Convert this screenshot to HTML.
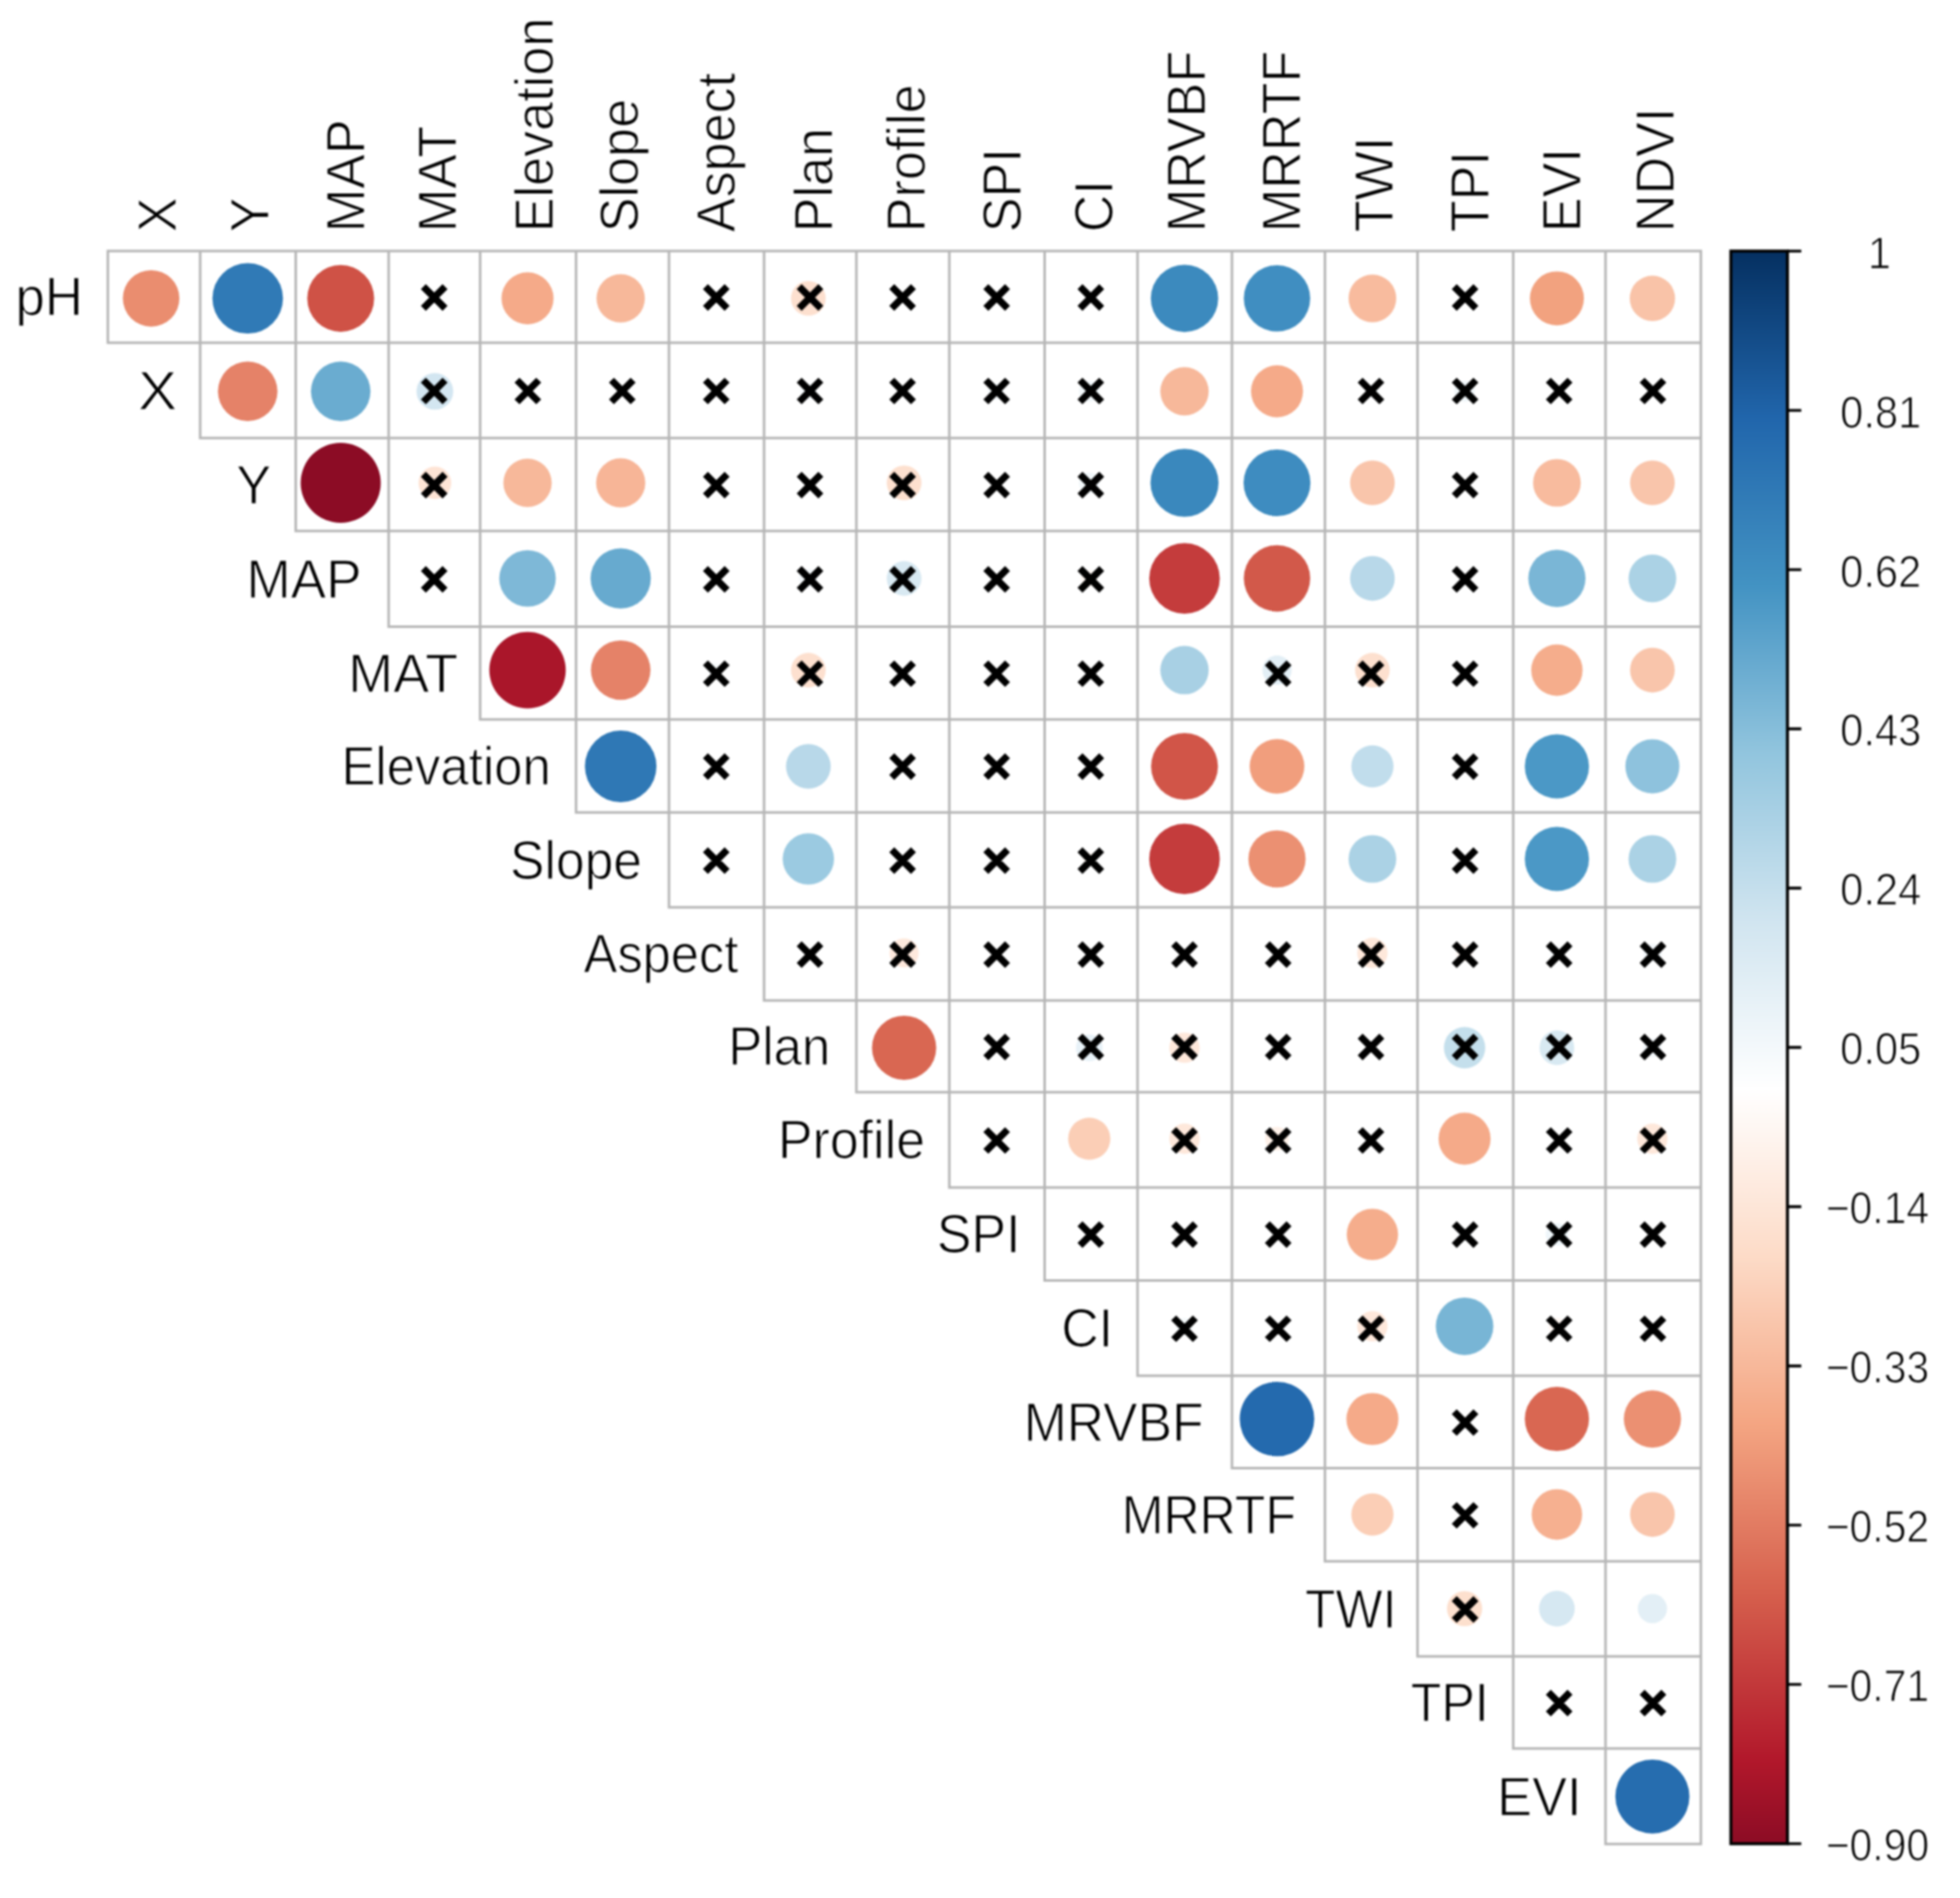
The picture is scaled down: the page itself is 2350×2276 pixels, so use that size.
<!DOCTYPE html>
<html><head><meta charset="utf-8"><title>Correlation plot</title>
<style>html,body{margin:0;padding:0;background:#fff}svg{display:block;filter:blur(1.1px)}text{font-family:"Liberation Sans",Arial,sans-serif;fill:#000;stroke:#fff;stroke-width:1.1px}</style></head><body>
<svg width="2350" height="2276" viewBox="0 0 2350 2276">
<rect width="2350" height="2276" fill="#fff"/>
<defs><linearGradient id="cb" x1="0" y1="0" x2="0" y2="1"><stop offset="0.0000" stop-color="#053061"/><stop offset="0.1053" stop-color="#2166ac"/><stop offset="0.2105" stop-color="#4393c3"/><stop offset="0.3158" stop-color="#92c5de"/><stop offset="0.4211" stop-color="#d1e5f0"/><stop offset="0.5263" stop-color="#ffffff"/><stop offset="0.6316" stop-color="#fddbc7"/><stop offset="0.7368" stop-color="#f4a582"/><stop offset="0.8421" stop-color="#d6604d"/><stop offset="0.9474" stop-color="#b2182b"/><stop offset="1.0000" stop-color="#8c0c25"/></linearGradient></defs>
<g><circle cx="181.2" cy="357.8" r="33.9" fill="#ea8d6f"/><circle cx="297.0" cy="357.8" r="42.3" fill="#307ab6"/><circle cx="408.5" cy="357.8" r="40.1" fill="#cf5246"/><circle cx="632.5" cy="357.8" r="31.2" fill="#f5aa89"/><circle cx="744.2" cy="357.8" r="29.0" fill="#f7b89a"/><circle cx="969.2" cy="357.8" r="20.8" fill="#fde0cf"/><circle cx="1420.2" cy="357.8" r="40.4" fill="#3c8abe"/><circle cx="1531.1" cy="357.8" r="39.8" fill="#408ec1"/><circle cx="1645.5" cy="357.8" r="28.6" fill="#f8bb9e"/><circle cx="1866.7" cy="357.8" r="32.4" fill="#f2a27f"/><circle cx="1981.2" cy="357.8" r="27.2" fill="#f9c3a8"/><circle cx="297.0" cy="469.3" r="35.7" fill="#e58268"/><circle cx="408.5" cy="469.3" r="35.7" fill="#6aacd0"/><circle cx="521.4" cy="469.3" r="22.0" fill="#d3e6f1"/><circle cx="969.2" cy="469.3" r="10.1" fill="#f6fafc"/><circle cx="1194.3" cy="469.3" r="10.1" fill="#f6fafc"/><circle cx="1306.0" cy="469.3" r="12.4" fill="#f1f7fa"/><circle cx="1420.2" cy="469.3" r="29.0" fill="#f7b89a"/><circle cx="1531.1" cy="469.3" r="31.2" fill="#f5aa89"/><circle cx="1645.5" cy="469.3" r="8.8" fill="#f8fbfd"/><circle cx="1756.0" cy="469.3" r="12.4" fill="#f1f7fa"/><circle cx="408.5" cy="579.0" r="48.0" fill="#8c0c25"/><circle cx="521.4" cy="579.0" r="19.6" fill="#fee4d5"/><circle cx="632.5" cy="579.0" r="29.0" fill="#f7b89a"/><circle cx="744.2" cy="579.0" r="29.5" fill="#f7b597"/><circle cx="1084.0" cy="579.0" r="20.8" fill="#fde0cf"/><circle cx="1306.0" cy="579.0" r="12.4" fill="#f1f7fa"/><circle cx="1420.2" cy="579.0" r="40.8" fill="#3a88bd"/><circle cx="1531.1" cy="579.0" r="40.1" fill="#3e8cc0"/><circle cx="1645.5" cy="579.0" r="26.8" fill="#f9c5ab"/><circle cx="1866.7" cy="579.0" r="28.6" fill="#f8bb9e"/><circle cx="1981.2" cy="579.0" r="26.8" fill="#f9c5ab"/><circle cx="632.5" cy="693.6" r="33.9" fill="#7eb8d7"/><circle cx="744.2" cy="693.6" r="36.1" fill="#67aacf"/><circle cx="969.2" cy="693.6" r="11.3" fill="#f4f8fb"/><circle cx="1084.0" cy="693.6" r="20.8" fill="#d8e9f2"/><circle cx="1306.0" cy="693.6" r="10.1" fill="#fff8f4"/><circle cx="1420.2" cy="693.6" r="42.3" fill="#c43c3c"/><circle cx="1531.1" cy="693.6" r="39.8" fill="#d2594a"/><circle cx="1645.5" cy="693.6" r="26.8" fill="#b8d8e9"/><circle cx="1866.7" cy="693.6" r="34.3" fill="#7ab6d6"/><circle cx="1981.2" cy="693.6" r="28.6" fill="#abd2e5"/><circle cx="632.5" cy="803.6" r="45.8" fill="#aa162a"/><circle cx="744.2" cy="803.6" r="35.7" fill="#e58268"/><circle cx="857.3" cy="803.6" r="8.8" fill="#f8fbfd"/><circle cx="969.2" cy="803.6" r="20.8" fill="#fde0cf"/><circle cx="1420.2" cy="803.6" r="29.0" fill="#a8d0e4"/><circle cx="1531.1" cy="803.6" r="17.5" fill="#e3eff6"/><circle cx="1645.5" cy="803.6" r="20.8" fill="#fde0cf"/><circle cx="1866.7" cy="803.6" r="30.8" fill="#f5ad8c"/><circle cx="1981.2" cy="803.6" r="26.8" fill="#f9c5ab"/><circle cx="744.2" cy="919.0" r="42.9" fill="#2f78b5"/><circle cx="969.2" cy="919.0" r="26.8" fill="#b8d8e9"/><circle cx="1420.2" cy="919.0" r="40.1" fill="#d15548"/><circle cx="1531.1" cy="919.0" r="32.8" fill="#f19e7d"/><circle cx="1645.5" cy="919.0" r="25.3" fill="#c1ddec"/><circle cx="1866.7" cy="919.0" r="38.5" fill="#4b98c6"/><circle cx="1981.2" cy="919.0" r="32.4" fill="#8ec2dd"/><circle cx="969.2" cy="1030.0" r="30.8" fill="#9bcae1"/><circle cx="1306.0" cy="1030.0" r="8.8" fill="#fffaf7"/><circle cx="1420.2" cy="1030.0" r="42.3" fill="#c43c3c"/><circle cx="1531.1" cy="1030.0" r="34.3" fill="#eb9072"/><circle cx="1645.5" cy="1030.0" r="28.6" fill="#abd2e5"/><circle cx="1866.7" cy="1030.0" r="38.5" fill="#4b98c6"/><circle cx="1981.2" cy="1030.0" r="28.6" fill="#abd2e5"/><circle cx="1084.0" cy="1142.7" r="17.5" fill="#fee9dd"/><circle cx="1645.5" cy="1142.7" r="18.2" fill="#fee8db"/><circle cx="1756.0" cy="1142.7" r="10.1" fill="#fff8f4"/><circle cx="1866.7" cy="1142.7" r="8.8" fill="#f8fbfd"/><circle cx="1981.2" cy="1142.7" r="11.3" fill="#f4f8fb"/><circle cx="1084.0" cy="1256.4" r="38.5" fill="#d96752"/><circle cx="1306.0" cy="1256.4" r="16.0" fill="#e8f2f8"/><circle cx="1420.2" cy="1256.4" r="18.2" fill="#fee8db"/><circle cx="1756.0" cy="1256.4" r="24.8" fill="#c4dfec"/><circle cx="1866.7" cy="1256.4" r="20.8" fill="#d8e9f2"/><circle cx="1981.2" cy="1256.4" r="11.3" fill="#f4f8fb"/><circle cx="1194.3" cy="1365.5" r="8.8" fill="#fffaf7"/><circle cx="1306.0" cy="1365.5" r="25.3" fill="#fbceb6"/><circle cx="1420.2" cy="1365.5" r="18.2" fill="#fee8db"/><circle cx="1531.1" cy="1365.5" r="14.3" fill="#fef1e9"/><circle cx="1756.0" cy="1365.5" r="31.2" fill="#f5aa89"/><circle cx="1981.2" cy="1365.5" r="18.2" fill="#fee8db"/><circle cx="1645.5" cy="1480.2" r="30.8" fill="#f5ad8c"/><circle cx="1756.0" cy="1480.2" r="8.8" fill="#f8fbfd"/><circle cx="1866.7" cy="1480.2" r="13.4" fill="#eff6fa"/><circle cx="1420.2" cy="1590.4" r="10.1" fill="#f6fafc"/><circle cx="1645.5" cy="1590.4" r="18.2" fill="#fee8db"/><circle cx="1756.0" cy="1590.4" r="34.5" fill="#78b5d5"/><circle cx="1866.7" cy="1590.4" r="10.1" fill="#fff8f4"/><circle cx="1531.1" cy="1701.6" r="44.7" fill="#246aae"/><circle cx="1645.5" cy="1701.6" r="31.2" fill="#f5aa89"/><circle cx="1866.7" cy="1701.6" r="38.5" fill="#d96752"/><circle cx="1981.2" cy="1701.6" r="34.3" fill="#eb9072"/><circle cx="1645.5" cy="1816.1" r="25.3" fill="#fbceb6"/><circle cx="1866.7" cy="1816.1" r="30.3" fill="#f6b090"/><circle cx="1981.2" cy="1816.1" r="26.8" fill="#f9c5ab"/><circle cx="1756.0" cy="1929.0" r="21.1" fill="#fde0ce"/><circle cx="1866.7" cy="1929.0" r="21.4" fill="#d6e8f2"/><circle cx="1981.2" cy="1929.0" r="17.5" fill="#e3eff6"/><circle cx="1981.2" cy="2154.3" r="44.4" fill="#266daf"/></g>
<path d="M127.8 301.0H2040.8M127.8 410.9H2040.8M238.5 525.3H2040.8M353.1 636.7H2040.8M464.5 751.4H2040.8M574.2 862.8H2040.8M689.2 974.3H2040.8M800.6 1088.0H2040.8M914.6 1199.8H2040.8M1025.3 1309.7H2040.8M1136.7 1424.0H2040.8M1251.0 1535.4H2040.8M1362.4 1649.8H2040.8M1475.6 1760.4H2040.8M1587.1 1872.2H2040.8M1698.1 1986.2H2040.8M1812.8 2096.8H2040.8M1923.5 2211.2H2040.8M129.3 299.5V412.4M240.0 299.5V526.8M354.6 299.5V638.2M466.0 299.5V752.9M575.7 299.5V864.3M690.7 299.5V975.8M802.1 299.5V1089.5M916.1 299.5V1201.3M1026.8 299.5V1311.2M1138.2 299.5V1425.5M1252.5 299.5V1536.9M1363.9 299.5V1651.3M1477.1 299.5V1761.9M1588.6 299.5V1873.7M1699.6 299.5V1987.7M1814.3 299.5V2098.3M1925.0 299.5V2212.7M2039.3 299.5V2212.7" stroke="#b6b6b6" stroke-width="3.0" fill="none"/>
<path d="M507.6 343.8L533.6 369.8M507.6 369.8L533.6 343.8M845.8 343.8L871.8 369.8M845.8 369.8L871.8 343.8M958.2 343.8L984.2 369.8M958.2 369.8L984.2 343.8M1069.2 343.8L1095.2 369.8M1069.2 369.8L1095.2 343.8M1182.0 343.8L1208.0 369.8M1182.0 369.8L1208.0 343.8M1294.9 343.8L1320.9 369.8M1294.9 369.8L1320.9 343.8M1743.6 343.8L1769.6 369.8M1743.6 369.8L1769.6 343.8M507.6 455.9L533.6 481.9M507.6 481.9L533.6 455.9M619.9 455.9L645.9 481.9M619.9 481.9L645.9 455.9M733.1 455.9L759.1 481.9M733.1 481.9L759.1 455.9M845.8 455.9L871.8 481.9M845.8 481.9L871.8 455.9M958.2 455.9L984.2 481.9M958.2 481.9L984.2 455.9M1069.2 455.9L1095.2 481.9M1069.2 481.9L1095.2 455.9M1182.0 455.9L1208.0 481.9M1182.0 481.9L1208.0 455.9M1294.9 455.9L1320.9 481.9M1294.9 481.9L1320.9 455.9M1630.8 455.9L1656.8 481.9M1630.8 481.9L1656.8 455.9M1743.6 455.9L1769.6 481.9M1743.6 481.9L1769.6 455.9M1856.4 455.9L1882.4 481.9M1856.4 481.9L1882.4 455.9M1968.9 455.9L1994.9 481.9M1968.9 481.9L1994.9 455.9M507.6 568.8L533.6 594.8M507.6 594.8L533.6 568.8M845.8 568.8L871.8 594.8M845.8 594.8L871.8 568.8M958.2 568.8L984.2 594.8M958.2 594.8L984.2 568.8M1069.2 568.8L1095.2 594.8M1069.2 594.8L1095.2 568.8M1182.0 568.8L1208.0 594.8M1182.0 594.8L1208.0 568.8M1294.9 568.8L1320.9 594.8M1294.9 594.8L1320.9 568.8M1743.6 568.8L1769.6 594.8M1743.6 594.8L1769.6 568.8M507.6 681.8L533.6 707.8M507.6 707.8L533.6 681.8M845.8 681.8L871.8 707.8M845.8 707.8L871.8 681.8M958.2 681.8L984.2 707.8M958.2 707.8L984.2 681.8M1069.2 681.8L1095.2 707.8M1069.2 707.8L1095.2 681.8M1182.0 681.8L1208.0 707.8M1182.0 707.8L1208.0 681.8M1294.9 681.8L1320.9 707.8M1294.9 707.8L1320.9 681.8M1743.6 681.8L1769.6 707.8M1743.6 707.8L1769.6 681.8M845.8 794.9L871.8 820.9M845.8 820.9L871.8 794.9M958.2 794.9L984.2 820.9M958.2 820.9L984.2 794.9M1069.2 794.9L1095.2 820.9M1069.2 820.9L1095.2 794.9M1182.0 794.9L1208.0 820.9M1182.0 820.9L1208.0 794.9M1294.9 794.9L1320.9 820.9M1294.9 820.9L1320.9 794.9M1519.5 794.9L1545.5 820.9M1519.5 820.9L1545.5 794.9M1630.8 794.9L1656.8 820.9M1630.8 820.9L1656.8 794.9M1743.6 794.9L1769.6 820.9M1743.6 820.9L1769.6 794.9M845.8 906.3L871.8 932.3M845.8 932.3L871.8 906.3M1069.2 906.3L1095.2 932.3M1069.2 932.3L1095.2 906.3M1182.0 906.3L1208.0 932.3M1182.0 932.3L1208.0 906.3M1294.9 906.3L1320.9 932.3M1294.9 932.3L1320.9 906.3M1743.6 906.3L1769.6 932.3M1743.6 932.3L1769.6 906.3M845.8 1019.0L871.8 1045.0M845.8 1045.0L871.8 1019.0M1069.2 1019.0L1095.2 1045.0M1069.2 1045.0L1095.2 1019.0M1182.0 1019.0L1208.0 1045.0M1182.0 1045.0L1208.0 1019.0M1294.9 1019.0L1320.9 1045.0M1294.9 1045.0L1320.9 1019.0M1743.6 1019.0L1769.6 1045.0M1743.6 1045.0L1769.6 1019.0M958.2 1131.7L984.2 1157.7M958.2 1157.7L984.2 1131.7M1069.2 1131.7L1095.2 1157.7M1069.2 1157.7L1095.2 1131.7M1182.0 1131.7L1208.0 1157.7M1182.0 1157.7L1208.0 1131.7M1294.9 1131.7L1320.9 1157.7M1294.9 1157.7L1320.9 1131.7M1407.2 1131.7L1433.2 1157.7M1407.2 1157.7L1433.2 1131.7M1519.5 1131.7L1545.5 1157.7M1519.5 1157.7L1545.5 1131.7M1630.8 1131.7L1656.8 1157.7M1630.8 1157.7L1656.8 1131.7M1743.6 1131.7L1769.6 1157.7M1743.6 1157.7L1769.6 1131.7M1856.4 1131.7L1882.4 1157.7M1856.4 1157.7L1882.4 1131.7M1968.9 1131.7L1994.9 1157.7M1968.9 1157.7L1994.9 1131.7M1182.0 1242.5L1208.0 1268.5M1182.0 1268.5L1208.0 1242.5M1294.9 1242.5L1320.9 1268.5M1294.9 1268.5L1320.9 1242.5M1407.2 1242.5L1433.2 1268.5M1407.2 1268.5L1433.2 1242.5M1519.5 1242.5L1545.5 1268.5M1519.5 1268.5L1545.5 1242.5M1630.8 1242.5L1656.8 1268.5M1630.8 1268.5L1656.8 1242.5M1743.6 1242.5L1769.6 1268.5M1743.6 1268.5L1769.6 1242.5M1856.4 1242.5L1882.4 1268.5M1856.4 1268.5L1882.4 1242.5M1968.9 1242.5L1994.9 1268.5M1968.9 1268.5L1994.9 1242.5M1182.0 1354.6L1208.0 1380.6M1182.0 1380.6L1208.0 1354.6M1407.2 1354.6L1433.2 1380.6M1407.2 1380.6L1433.2 1354.6M1519.5 1354.6L1545.5 1380.6M1519.5 1380.6L1545.5 1354.6M1630.8 1354.6L1656.8 1380.6M1630.8 1380.6L1656.8 1354.6M1856.4 1354.6L1882.4 1380.6M1856.4 1380.6L1882.4 1354.6M1968.9 1354.6L1994.9 1380.6M1968.9 1380.6L1994.9 1354.6M1294.9 1467.5L1320.9 1493.5M1294.9 1493.5L1320.9 1467.5M1407.2 1467.5L1433.2 1493.5M1407.2 1493.5L1433.2 1467.5M1519.5 1467.5L1545.5 1493.5M1519.5 1493.5L1545.5 1467.5M1743.6 1467.5L1769.6 1493.5M1743.6 1493.5L1769.6 1467.5M1856.4 1467.5L1882.4 1493.5M1856.4 1493.5L1882.4 1467.5M1968.9 1467.5L1994.9 1493.5M1968.9 1493.5L1994.9 1467.5M1407.2 1580.4L1433.2 1606.4M1407.2 1606.4L1433.2 1580.4M1519.5 1580.4L1545.5 1606.4M1519.5 1606.4L1545.5 1580.4M1630.8 1580.4L1656.8 1606.4M1630.8 1606.4L1656.8 1580.4M1856.4 1580.4L1882.4 1606.4M1856.4 1606.4L1882.4 1580.4M1968.9 1580.4L1994.9 1606.4M1968.9 1606.4L1994.9 1580.4M1743.6 1692.9L1769.6 1718.9M1743.6 1718.9L1769.6 1692.9M1743.6 1804.1L1769.6 1830.1M1743.6 1830.1L1769.6 1804.1M1743.6 1917.0L1769.6 1943.0M1743.6 1943.0L1769.6 1917.0M1856.4 2029.3L1882.4 2055.3M1856.4 2055.3L1882.4 2029.3M1968.9 2029.3L1994.9 2055.3M1968.9 2055.3L1994.9 2029.3" stroke="#000" stroke-width="8.4" stroke-linecap="butt" fill="none"/>
<text transform="translate(99.5 378.4) scale(1.040 1.070)" font-size="61" text-anchor="end">pH</text>
<text transform="translate(212.3 490.6) scale(1.150 1.070)" font-size="61" text-anchor="end">X</text>
<text transform="translate(325.2 603.5) scale(1.030 1.070)" font-size="61" text-anchor="end">Y</text>
<text transform="translate(433.6 716.5) scale(1.045 1.070)" font-size="61" text-anchor="end">MAP</text>
<text transform="translate(549.2 829.6) scale(1.060 1.070)" font-size="61" text-anchor="end">MAT</text>
<text transform="translate(660.3 941.0) scale(1.000 1.070)" font-size="61" text-anchor="end">Elevation</text>
<text transform="translate(769.8 1053.6) scale(1.015 1.070)" font-size="61" text-anchor="end">Slope</text>
<text transform="translate(885.3 1166.4) scale(0.995 1.070)" font-size="61" text-anchor="end">Aspect</text>
<text transform="translate(995.3 1277.2) scale(1.000 1.070)" font-size="61" text-anchor="end">Plan</text>
<text transform="translate(1109.1 1389.3) scale(1.020 1.070)" font-size="61" text-anchor="end">Profile</text>
<text transform="translate(1223.5 1502.2) scale(1.020 1.070)" font-size="61" text-anchor="end">SPI</text>
<text transform="translate(1334.6 1615.1) scale(1.020 1.070)" font-size="61" text-anchor="end">CI</text>
<text transform="translate(1443.0 1727.6) scale(1.015 1.070)" font-size="61" text-anchor="end">MRVBF</text>
<text transform="translate(1554.0 1838.8) scale(0.985 1.070)" font-size="61" text-anchor="end">MRRTF</text>
<text transform="translate(1674.4 1951.7) scale(0.980 1.070)" font-size="61" text-anchor="end">TWI</text>
<text transform="translate(1785.0 2064.0) scale(0.985 1.070)" font-size="61" text-anchor="end">TPI</text>
<text transform="translate(1896.3 2176.5) scale(1.030 1.070)" font-size="61" text-anchor="end">EVI</text>
<text transform="translate(210.8 278.5) rotate(-90) scale(1.025 1.070)" font-size="61">X</text>
<text transform="translate(322.2 278.5) rotate(-90) scale(1.025 1.070)" font-size="61">Y</text>
<text transform="translate(436.5 278.5) rotate(-90) scale(1.025 1.070)" font-size="61">MAP</text>
<text transform="translate(547.2 278.5) rotate(-90) scale(1.025 1.070)" font-size="61">MAT</text>
<text transform="translate(662.6 278.5) rotate(-90) scale(1.025 1.070)" font-size="61">Elevation</text>
<text transform="translate(765.0 278.5) rotate(-90) scale(1.025 1.070)" font-size="61">Slope</text>
<text transform="translate(880.8 278.5) rotate(-90) scale(1.025 1.070)" font-size="61">Aspect</text>
<text transform="translate(997.6 278.5) rotate(-90) scale(1.025 1.070)" font-size="61">Plan</text>
<text transform="translate(1109.4 278.5) rotate(-90) scale(1.025 1.070)" font-size="61">Profile</text>
<text transform="translate(1223.6 278.5) rotate(-90) scale(1.025 1.070)" font-size="61">SPI</text>
<text transform="translate(1334.4 278.5) rotate(-90) scale(1.025 1.070)" font-size="61">CI</text>
<text transform="translate(1445.0 278.5) rotate(-90) scale(1.025 1.070)" font-size="61">MRVBF</text>
<text transform="translate(1559.0 278.5) rotate(-90) scale(1.025 1.070)" font-size="61">MRRTF</text>
<text transform="translate(1670.4 278.5) rotate(-90) scale(1.025 1.070)" font-size="61">TWI</text>
<text transform="translate(1784.7 278.5) rotate(-90) scale(1.025 1.070)" font-size="61">TPI</text>
<text transform="translate(1895.4 278.5) rotate(-90) scale(1.025 1.070)" font-size="61">EVI</text>
<text transform="translate(2006.5 278.5) rotate(-90) scale(1.025 1.070)" font-size="61">NDVI</text>
<rect x="2075.3" y="301.1" width="67.8" height="1909.8" fill="url(#cb)" stroke="#000" stroke-width="3.6"/>
<path d="M2143 301.1H2159.7M2143 492.1H2159.7M2143 683.1H2159.7M2143 874.0H2159.7M2143 1065.0H2159.7M2143 1256.0H2159.7M2143 1447.0H2159.7M2143 1638.0H2159.7M2143 1828.9H2159.7M2143 2019.9H2159.7M2143 2210.9H2159.7" stroke="#000" stroke-width="3.4" fill="none"/>
<text transform="translate(2253.5 321.5) scale(1.000 1.070)" font-size="50" text-anchor="middle">1</text>
<text transform="translate(2255.0 512.5) scale(1.000 1.070)" font-size="50" text-anchor="middle">0.81</text>
<text transform="translate(2255.0 703.5) scale(1.000 1.070)" font-size="50" text-anchor="middle">0.62</text>
<text transform="translate(2255.0 894.4) scale(1.000 1.070)" font-size="50" text-anchor="middle">0.43</text>
<text transform="translate(2255.0 1085.4) scale(1.000 1.070)" font-size="50" text-anchor="middle">0.24</text>
<text transform="translate(2255.0 1276.4) scale(1.000 1.070)" font-size="50" text-anchor="middle">0.05</text>
<text transform="translate(2251.0 1467.4) scale(0.982 1.070)" font-size="50" text-anchor="middle">−0.14</text>
<text transform="translate(2251.0 1658.4) scale(0.982 1.070)" font-size="50" text-anchor="middle">−0.33</text>
<text transform="translate(2251.0 1849.3) scale(0.982 1.070)" font-size="50" text-anchor="middle">−0.52</text>
<text transform="translate(2251.0 2040.3) scale(0.982 1.070)" font-size="50" text-anchor="middle">−0.71</text>
<text transform="translate(2251.0 2231.3) scale(0.982 1.070)" font-size="50" text-anchor="middle">−0.90</text>
</svg></body></html>
